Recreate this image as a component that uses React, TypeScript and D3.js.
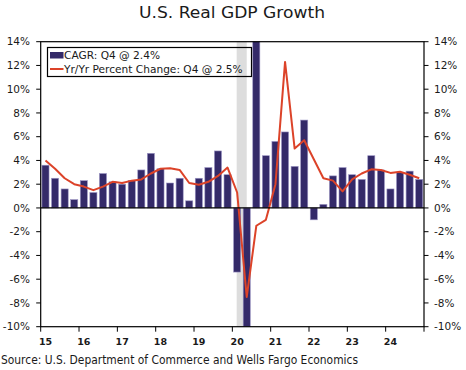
import React from 'react';
import * as d3 from 'd3';

// quarterly, 2015 Q1 .. 2024 Q4
const years = ['15', '16', '17', '18', '19', '20', '21', '22', '23', '24'];
const quarters = years.flatMap(y => ['Q1', 'Q2', 'Q3', 'Q4'].map(q => `${y}${q}`));

// annualized quarterly growth (CAGR)
const cagr = [
  3.6, 2.5, 1.6, 0.7,
  2.3, 1.3, 2.9, 2.2,
  2.0, 2.3, 3.2, 4.6,
  3.3, 2.1, 2.5, 0.6,
  2.5, 3.4, 4.8, 2.8,
  -5.4, -28.0, 34.8, 4.4,
  5.6, 6.4, 3.5, 7.4,
  -1.0, 0.3, 2.7, 3.4,
  2.8, 2.4, 4.4, 3.2,
  1.6, 3.0, 3.1, 2.4,
];

// year-over-year percent change
const yoy = [
  4.0, 3.3, 2.5, 2.0,
  1.8, 1.5, 1.8, 2.2,
  2.1, 2.3, 2.4, 2.9,
  3.3, 3.35, 3.2, 2.1,
  1.95, 2.2, 2.7, 3.4,
  1.3, -7.5, -1.5, -1.0,
  2.0, 12.3, 5.0, 5.7,
  4.1, 2.5, 2.3, 1.4,
  2.4, 2.9, 3.25, 3.2,
  2.95, 3.05, 2.8, 2.5,
];

const yTicks = [-10, -8, -6, -4, -2, 0, 2, 4, 6, 8, 10, 12, 14];

const W = 466;
const H = 370;
const left = 40.7;
const right = 424;
const top = 41.7;
const bottom = 326.7;

const BAR = '#342a69';
const LINE = '#dc4329';
const FONT = '"DejaVu Sans", Verdana, sans-serif';

export default function App() {
  const x = d3.scaleBand<string>().domain(quarters).range([left, right]).paddingInner(0.26).paddingOuter(0.13);
  const xq = d3.scaleBand<string>().domain(quarters).range([left, right]);
  const y = d3.scaleLinear().domain([-10, 14]).range([bottom, top]).clamp(true);

  const line = d3.line<number>()
    .x((_, i) => (xq(quarters[i]) as number) + xq.bandwidth() / 2)
    .y(d => y(d));

  // recession shading, roughly Feb-Apr 2020
  const bandX0 = (xq('20Q1') as number) + xq.bandwidth() * 0.45;
  const bandX1 = (xq('20Q2') as number) + xq.bandwidth() * 0.5;

  return (
    <svg width={W} height={H} style={{ position: 'absolute', left: 0, top: 0, background: '#fff' }}>
      <text x={232} y={18} textAnchor="middle" fontFamily={FONT} fontSize={16} fill="#1a1a1a"
        textLength={186} lengthAdjust="spacingAndGlyphs">
        U.S. Real GDP Growth
      </text>

      <rect x={bandX0} y={top} width={bandX1 - bandX0} height={bottom - top} fill="#dddddd" />

      {cagr.map((v, i) => {
        const y0 = y(0);
        const y1 = y(v);
        return (
          <rect
            key={quarters[i]}
            x={x(quarters[i])}
            y={Math.min(y0, y1)}
            width={x.bandwidth()}
            height={Math.abs(y1 - y0)}
            fill={BAR}
            stroke="#9c95c4"
            strokeWidth={0.6}
          />
        );
      })}

      <path d={line(yoy) || ''} fill="none" stroke={LINE} strokeWidth={2} strokeLinejoin="round" />

      {/* frame */}
      <rect x={left} y={top} width={right - left} height={bottom - top} fill="none" stroke="#000" strokeWidth={1.2} />
      <line x1={left} x2={right} y1={y(0)} y2={y(0)} stroke="#000" strokeWidth={1.2} />

      {yTicks.map(t => (
        <g key={t} fontFamily={FONT} fontSize={10.5} fill="#1a1a1a">
          <line x1={left - 4.5} x2={left} y1={y(t)} y2={y(t)} stroke="#000" />
          <line x1={right} x2={right + 4.5} y1={y(t)} y2={y(t)} stroke="#000" />
          <text x={30} y={y(t) + 3.7} textAnchor="end">{`${t}%`}</text>
          <text x={434} y={y(t) + 3.7} textAnchor="start">{`${t}%`}</text>
        </g>
      ))}

      {years.map(yr => {
        const tx = xq(`${yr}Q1`) as number;
        return (
          <g key={yr} fontFamily={FONT} fontSize={9.5} fill="#1a1a1a" fontWeight="bold">
            <line x1={tx} x2={tx} y1={bottom} y2={bottom + 5} stroke="#000" />
            <text x={tx + 4.8} y={345} textAnchor="middle">{yr}</text>
          </g>
        );
      })}
      <line x1={right} x2={right} y1={bottom} y2={bottom + 5} stroke="#000" />

      {/* legend */}
      <rect x={47.5} y={47.5} width={204} height={29} fill="none" stroke="#000" strokeWidth={1.2} />
      <rect x={50} y={52} width={13.5} height={6.5} fill={BAR} />
      <line x1={50} x2={63.5} y1={69} y2={69} stroke={LINE} strokeWidth={2} />
      <text x={64} y={58.7} fontFamily={FONT} fontSize={10.6} fill="#1a1a1a">CAGR: Q4 @ 2.4%</text>
      <text x={64} y={73.3} fontFamily={FONT} fontSize={10.6} fill="#1a1a1a">Yr/Yr Percent Change: Q4 @ 2.5%</text>

      <text x={1} y={363.5} fontFamily={FONT} fontSize={11.5} fill="#1a1a1a" textLength={357} lengthAdjust="spacingAndGlyphs">
        Source: U.S. Department of Commerce and Wells Fargo Economics
      </text>
    </svg>
  );
}
